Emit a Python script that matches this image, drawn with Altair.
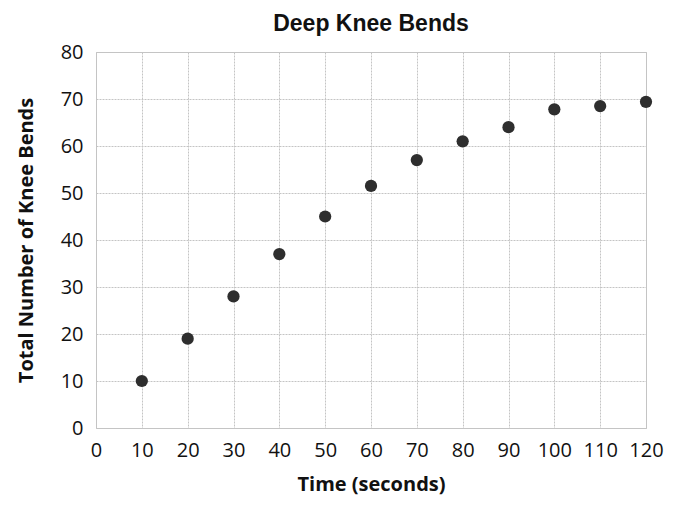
import altair as alt
import pandas as pd

time_s = [10, 20, 30, 40, 50, 60, 70, 80, 90, 100, 110, 120]
knee_bends = [10, 19, 28, 37, 45, 51.5, 57, 61, 64, 67.8, 68.5, 69.4]

df = pd.DataFrame({"time": time_s, "bends": knee_bends})

chart = alt.Chart(df).mark_circle(size=150, color="#2e2e2e", opacity=1).encode(
    x=alt.X("time:Q", scale=alt.Scale(domain=[0, 120], nice=False),
            axis=alt.Axis(title="Time (seconds)", values=list(range(0, 121, 10)),
                          labelOverlap=False, labelFlush=False)),
    y=alt.Y("bends:Q", scale=alt.Scale(domain=[0, 80], nice=False),
            axis=alt.Axis(title="Total Number of Knee Bends", values=list(range(0, 81, 10)),
                          labelOverlap=False, labelFlush=False)),
).properties(
    width=550, height=376,
    title=alt.TitleParams("Deep Knee Bends", font="Liberation Sans", fontSize=23,
                          fontWeight="bold", color="#111", offset=6),
    autosize=alt.AutoSizeParams(type="none"),
    padding={"left": 88, "top": 44, "right": 19, "bottom": 72},
).configure_view(
    stroke="#c4c4c4", strokeWidth=1
).configure_axis(
    grid=True, gridColor="#c4c4c4", gridDash=[2, 1], gridWidth=1,
    domain=False, ticks=False,
    labelFont="Open Sans", labelFontSize=20, labelColor="#111",
    titleFont="Open Sans", titleFontSize=20, titleFontWeight="bold", titleColor="#111",
).configure_axisX(
    labelPadding=12, titlePadding=14
).configure_axisY(
    labelPadding=13, titlePadding=24
)

chart.save("out.html", embed_options={"renderer": "svg", "actions": False})
